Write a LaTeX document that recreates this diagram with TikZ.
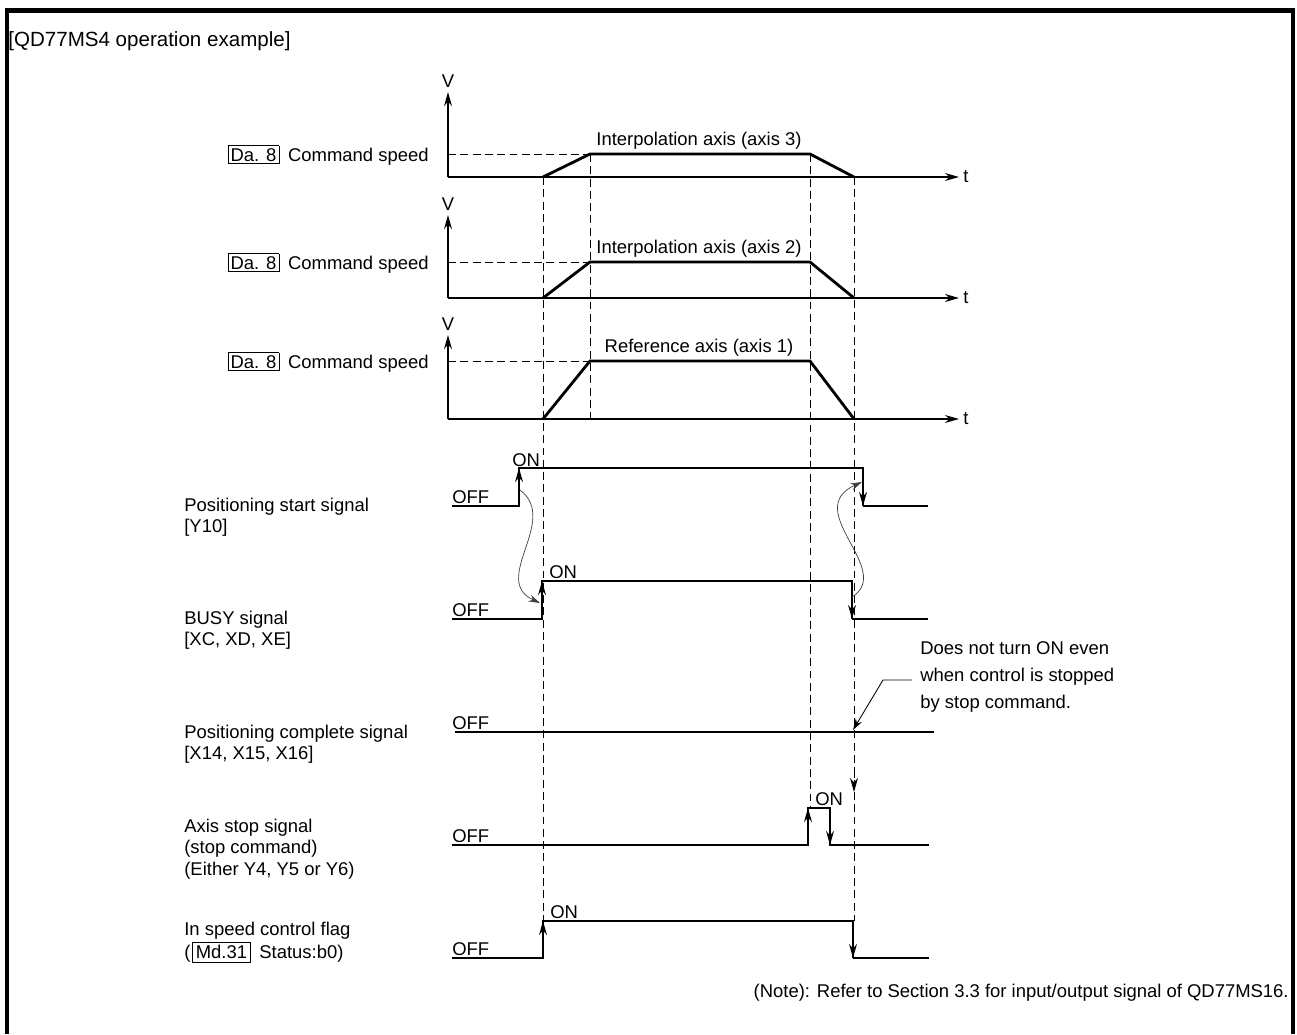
\documentclass[tikz,border=0pt]{standalone}
\usepackage{fontspec}
\setmainfont{Liberation Sans}
\usepackage{tikz}
\usetikzlibrary{arrows.meta}

\begin{document}
\begin{tikzpicture}[x=0.02cm, y=-0.02cm,
    every node/.style={inner sep=0pt, font=\fontsize{10.5}{12.2}\selectfont},
    wave/.style={line width=0.7pt},
    heavy/.style={line width=1.3pt},
    prof/.style={line width=1.6pt},
    guide/.style={line width=0.5pt, dash pattern=on 4.5pt off 2.5pt},
    tip/.style={-{Stealth[length=8pt,width=4.5pt]}},
    link/.style={line width=0.4pt, black!75, -{Stealth[length=6.5pt,width=4pt]}}]
    \useasboundingbox (0,0) rectangle (1297,1034);
    % frame and title
    \draw[line width=2.6pt, line join=miter] (7,1034) -- (7,10.5) -- (1293,10.5) -- (1293,1034);
    \node[anchor=west, font=\fontsize{11.7}{14}\selectfont] (title) at (8,41) {[QD77MS4 operation example]};

    % speed profiles
    \foreach \n/\base/\lev/\vtop/\txt in {1/177/154/92/Interpolation axis (axis 3),
        2/298/262/215/Interpolation axis (axis 2),
        3/419/361/335/Reference axis (axis 1)} {
        \draw[wave,tip] (448,\base) -- (448,\vtop);
        \draw[wave,tip] (448,\base) -- (959,\base);
        \node (v\n) at (448,\vtop-11) {V};
        \node (t\n) at (966,\base) {t};
        \draw[guide] (448,\lev) -- (590,\lev);
        \draw[prof] (543,\base) -- (590,\lev) -- (810,\lev) -- (854,\base);
        \node (ax\n) at (699,\lev-13) {\txt};
        \node[anchor=east] (cs\n) at (429,\lev+1) {{\setlength{\fboxsep}{1.3pt}\fbox{Da. 8}}\hspace{5pt}Command speed};
    }

    % timing guides
    \draw[guide] (543,177) -- (543,921);
    \draw[guide] (590,154) -- (590,419);
    \draw[guide] (810,154) -- (810,808);
    \draw[guide] (854,177) -- (854,921);
    \draw[guide,tip] (854,770) -- (854,792);

    % signal names
    \node[anchor=west, align=left] (ystart) at (184,517.5) {Positioning start signal\\{}[Y10]};
    \node[anchor=west, align=left] (xbusy) at (184,630.5) {BUSY signal\\{}[XC, XD, XE]};
    \node[anchor=west, align=left] (xdone) at (184,744) {Positioning complete signal\\{}[X14, X15, X16]};
    \node[anchor=west, align=left] (ystop) at (184,849) {Axis stop signal\\(stop command)\\(Either Y4, Y5 or Y6)};
    \node[anchor=west, align=left, font=\fontsize{10.5}{13}\selectfont] (flag) at (184,942.5) {In speed control flag\\(\hspace{1pt}{\setlength{\fboxsep}{1.6pt}\fbox{Md.31}}\hspace{5pt}Status:b0)};

    % positioning start signal
    \draw[wave] (452,506) -- (519,506) -- (519,468) -- (863,468) -- (863,506);
    \draw[heavy] (863,506) -- (928,506);
    \draw[wave,tip] (519,495) -- (519,468);
    \draw[wave,tip] (863,480) -- (863,506);
    \node[anchor=base west] (off1) at (452,503.5) {OFF};
    \node[anchor=base west] (on1) at (512,466) {ON};

    % BUSY signal
    \draw[wave] (452,619) -- (542,619) -- (542,581) -- (852,581) -- (852,619);
    \draw[heavy] (852,619) -- (928,619);
    \draw[wave,tip] (542,605) -- (542,581);
    \draw[wave,tip] (852,595) -- (852,619);
    \node[anchor=base west] (off2) at (452,616.5) {OFF};
    \node[anchor=base west] (on2) at (549,578.5) {ON};

    % positioning complete signal
    \draw[heavy] (455,732) -- (934,732);
    \node[anchor=base west] (off3) at (452,729.5) {OFF};

    % axis stop signal
    \draw[wave] (452,845) -- (808,845) -- (808,808) -- (830,808) -- (830,845) -- (929,845);
    \draw[wave,tip] (808,830) -- (808,808);
    \draw[wave,tip] (830,825) -- (830,845);
    \node[anchor=base west] (off4) at (452,842.5) {OFF};
    \node[anchor=base west] (on4) at (815,805.5) {ON};

    % in speed control flag
    \draw[wave] (452,958) -- (543,958) -- (543,921) -- (853,921) -- (853,958);
    \draw[heavy] (853,958) -- (929,958);
    \draw[wave,tip] (543,945) -- (543,921);
    \draw[wave,tip] (853,935) -- (853,958);
    \node[anchor=base west] (off5) at (452,955.5) {OFF};
    \node[anchor=base west] (on5) at (550,918.5) {ON};

    % cause and effect
    \draw[link] (520,490) .. controls (560,520) and (490,580) .. (540,603);
    \draw[link] (852,597) .. controls (895,570) and (800,510) .. (862,482);

    % remarks
    \node[anchor=west, align=left, font=\fontsize{10.5}{15.6}\selectfont] (remark) at (920,677) {Does not turn ON even\\when control is stopped\\by stop command.};
    \draw[line width=0.5pt, -{Stealth[length=6.5pt,width=4pt]}] (912,680) -- (883,680) -- (853,730);
    \node[anchor=east] (note) at (1289,993) {(Note): Refer to Section 3.3 for input/output signal of QD77MS16.};
\end{tikzpicture}
\end{document}
